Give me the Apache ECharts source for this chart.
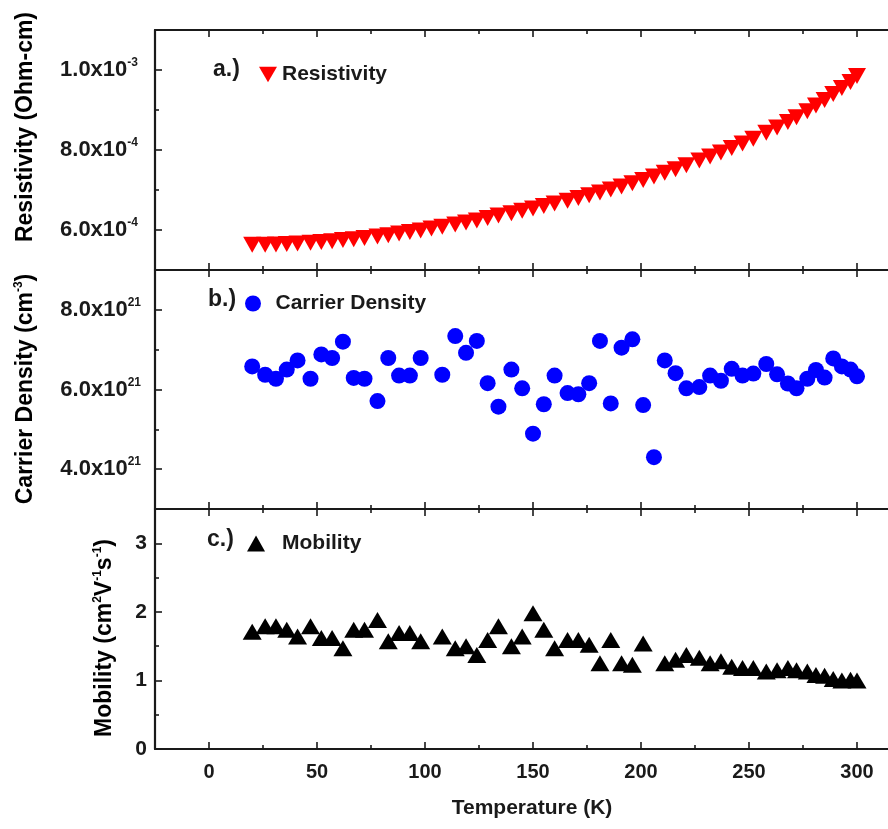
<!DOCTYPE html>
<html>
<head>
<meta charset="utf-8">
<script src="https://cdn.jsdelivr.net/npm/echarts@6/dist/echarts.min.js"></script>
<style>
  html, body { margin: 0; padding: 0; background: #fff; }
  #chart { width: 888px; height: 829px; }
</style>
</head>
<body>
<div id="chart"></div>
<script>
// ---- Data: temperature sweep (K) and measured transport quantities ----
const resTemps = [20,26,31,36,41,47,52,57,62,67,72,78,83,88,93,98,103,108,114,119,124,129,134,140,145,150,155,160,166,171,176,181,186,191,196,201,206,211,216,221,227,232,237,242,247,252,258,263,268,272,277,281,285,289,293,297,300];
const resistivity = [5.63e-4,5.63e-4,5.64e-4,5.65e-4,5.66e-4,5.68e-4,5.70e-4,5.72e-4,5.75e-4,5.77e-4,5.80e-4,5.84e-4,5.87e-4,5.91e-4,5.95e-4,5.99e-4,6.04e-4,6.08e-4,6.14e-4,6.19e-4,6.24e-4,6.30e-4,6.36e-4,6.42e-4,6.48e-4,6.54e-4,6.60e-4,6.66e-4,6.73e-4,6.80e-4,6.87e-4,6.94e-4,7.01e-4,7.09e-4,7.17e-4,7.25e-4,7.34e-4,7.43e-4,7.52e-4,7.62e-4,7.74e-4,7.84e-4,7.94e-4,8.05e-4,8.16e-4,8.28e-4,8.43e-4,8.56e-4,8.70e-4,8.82e-4,8.97e-4,9.11e-4,9.25e-4,9.40e-4,9.55e-4,9.70e-4,9.85e-4];

const hallTemps = [20,26,31,36,41,47,52,57,62,67,72,78,83,88,93,98,108,114,119,124,129,134,140,145,150,155,160,166,171,176,181,186,191,196,201,206,211,216,221,227,232,237,242,247,252,258,263,268,272,277,281,285,289,293,297,300];
const carrierDensity = [6.58e21,6.37e21,6.27e21,6.50e21,6.73e21,6.27e21,6.88e21,6.79e21,7.20e21,6.29e21,6.27e21,5.71e21,6.79e21,6.35e21,6.35e21,6.79e21,6.37e21,7.34e21,6.92e21,7.22e21,6.16e21,5.57e21,6.50e21,6.03e21,4.89e21,5.63e21,6.35e21,5.91e21,5.88e21,6.16e21,7.22e21,5.65e21,7.05e21,7.26e21,5.61e21,4.30e21,6.73e21,6.41e21,6.03e21,6.06e21,6.35e21,6.22e21,6.52e21,6.35e21,6.40e21,6.64e21,6.38e21,6.15e21,6.03e21,6.27e21,6.49e21,6.30e21,6.78e21,6.58e21,6.50e21,6.33e21];

// Mobility has no point at 206 K
const mobilityTemps = [20,26,31,36,41,47,52,57,62,67,72,78,83,88,93,98,108,114,119,124,129,134,140,145,150,155,160,166,171,176,181,186,191,196,201,211,216,221,227,232,237,242,247,252,258,263,268,272,277,281,285,289,293,297,300];
const mobility = [1.71,1.79,1.79,1.74,1.64,1.79,1.62,1.62,1.47,1.74,1.74,1.88,1.57,1.69,1.69,1.57,1.64,1.47,1.50,1.37,1.59,1.79,1.50,1.64,1.98,1.74,1.47,1.59,1.59,1.52,1.25,1.59,1.25,1.23,1.54,1.25,1.30,1.37,1.33,1.25,1.28,1.20,1.18,1.18,1.13,1.15,1.18,1.15,1.13,1.08,1.07,1.02,1.00,1.01,1.00];

// ---- Tick positions ----
const xMajorTicks = [0,50,100,150,200,250,300];
const xMinorTicks = [25,75,125,175,225,275];
const resMajorTicks = [6e-4,8e-4,1e-3];
const resMinorTicks = [7e-4,9e-4];
const denMajorTicks = [4e21,6e21,8e21];
const denMinorTicks = [5e21,7e21];
const mobMajorTicks = [0,1,2,3];
const mobMinorTicks = [0.5,1.5,2.5];

// ---- Styling ----
const FONT = '"Liberation Sans", Arial, Helvetica, sans-serif';
const INK = '#1a1a1a';
const X_MIN = -25, X_MAX = 325;
const DOWN_TRIANGLE = 'path://M0,0L20,0L10,17Z';
const panels = [
  { top: 30,  height: 240, yMin: 5e-4, yMax: 1.1e-3, major: resMajorTicks, minor: resMinorTicks, sci: true,  margin: 17 },
  { top: 270, height: 239, yMin: 3e21, yMax: 9e21,   major: denMajorTicks, minor: denMinorTicks, sci: true,  margin: 14 },
  { top: 509, height: 240, yMin: 0,    yMax: 3.5,    major: mobMajorTicks, minor: mobMinorTicks, sci: false, margin: 8 }
];

const supRich = {
  m: { fontSize: 22, fontWeight: 'bold', fontFamily: FONT, color: INK, lineHeight: 26 },
  e: { fontSize: 12, fontWeight: 'bold', fontFamily: FONT, color: INK, lineHeight: 11, verticalAlign: 'top' }
};

function sciLabel(v) {
  const exp = Math.floor(Math.log10(v) + 1e-9);
  const mant = v / Math.pow(10, exp);
  return '{m|' + mant.toFixed(1) + 'x10}{e|' + exp + '}';
}

const grids = [], xAxes = [], yAxes = [], xIdx = [], yIdx = [];
panels.forEach((p, g) => {
  // The frame runs past the right edge of the canvas
  grids.push({ left: 155, width: 756, top: p.top, height: p.height, containLabel: false, outerBoundsMode: 'none' });
  const isLast = g === panels.length - 1;
  const mkX = (position, ticks, len, line, labels) => ({
    type: 'value', gridIndex: g, position: position, min: X_MIN, max: X_MAX,
    axisLine: { show: line, onZero: false, lineStyle: { color: INK, width: 2.2 } },
    axisTick: { show: true, inside: true, length: len, customValues: ticks, lineStyle: { color: INK, width: 1.6 } },
    axisLabel: labels ? {
      show: true, customValues: xMajorTicks, margin: 13, fontSize: 20, fontWeight: 'bold',
      color: INK, fontFamily: FONT
    } : { show: false },
    splitLine: { show: false }
  });
  xIdx.push(xAxes.length);
  xAxes.push(mkX('bottom', xMajorTicks, 7, true, isLast));
  xAxes.push(mkX('bottom', xMinorTicks, 4, false, false));
  xAxes.push(mkX('top', xMajorTicks, 7, true, false));
  xAxes.push(mkX('top', xMinorTicks, 4, false, false));

  yIdx.push(yAxes.length);
  yAxes.push({
    type: 'value', gridIndex: g, position: 'left', min: p.yMin, max: p.yMax,
    axisLine: { show: true, onZero: false, lineStyle: { color: INK, width: 2.2 } },
    axisTick: { show: true, inside: true, length: 7, customValues: p.major, lineStyle: { color: INK, width: 1.6 } },
    axisLabel: {
      show: true, customValues: p.major, margin: p.margin,
      fontSize: 21, fontWeight: 'bold', color: INK, fontFamily: FONT,
      formatter: p.sci ? sciLabel : (v) => String(v),
      rich: supRich
    },
    splitLine: { show: false }
  });
  yAxes.push({
    type: 'value', gridIndex: g, position: 'left', min: p.yMin, max: p.yMax,
    axisLine: { show: false, onZero: false },
    axisTick: { show: true, inside: true, length: 4, customValues: p.minor, lineStyle: { color: INK, width: 1.6 } },
    axisLabel: { show: false },
    splitLine: { show: false }
  });
});

const pairs = (xs, ys) => xs.map((x, i) => [x, ys[i]]);

const legendText = (pad) => ({
  fontSize: 21, fontWeight: 'bold', color: INK, fontFamily: FONT, padding: [0, 0, 0, pad]
});

const titleRich = {
  t: { fontSize: 23, fontWeight: 'bold', fontFamily: FONT, color: INK, lineHeight: 27 },
  s: { fontSize: 12, fontWeight: 'bold', fontFamily: FONT, color: INK, lineHeight: 11, verticalAlign: 'top' }
};

const option = {
  animation: false,
  backgroundColor: '#fff',
  grid: grids,
  xAxis: xAxes,
  yAxis: yAxes,
  legend: [
    { data: [{ name: 'Resistivity', icon: DOWN_TRIANGLE }], left: 254, top: 59, itemWidth: 18, itemHeight: 16, textStyle: legendText(0) },
    { data: ['Carrier Density'], left: 240, top: 288, itemWidth: 17, itemHeight: 16, textStyle: legendText(9) },
    { data: ['Mobility'], left: 242, top: 528, itemWidth: 18, itemHeight: 16, textStyle: legendText(12) }
  ],
  graphic: [
    { type: 'text', left: 213, top: 58, style: { text: 'a.)', font: 'bold 23px ' + FONT, fill: INK } },
    { type: 'text', left: 208, top: 288, style: { text: 'b.)', font: 'bold 23px ' + FONT, fill: INK } },
    { type: 'text', left: 207, top: 528, style: { text: 'c.)', font: 'bold 23px ' + FONT, fill: INK } },
    { type: 'text', x: 26, y: 127, rotation: Math.PI / 2,
      style: { text: '{t|Resistivity (Ohm-cm)}', rich: titleRich, align: 'center', verticalAlign: 'middle' } },
    { type: 'text', x: 26, y: 389, rotation: Math.PI / 2,
      style: { text: '{t|Carrier Density (cm}{s|-3}{t|)}', rich: titleRich, align: 'center', verticalAlign: 'middle' } },
    { type: 'text', x: 105, y: 638, rotation: Math.PI / 2,
      style: { text: '{t|Mobility (cm}{s|2}{t|V}{s|-1}{t|s}{s|-1}{t|)}', rich: titleRich, align: 'center', verticalAlign: 'middle' } },
    { type: 'text', x: 532, y: 808,
      style: { text: 'Temperature (K)', font: 'bold 21px ' + FONT, fill: INK, align: 'center', verticalAlign: 'middle' } }
  ],
  series: [
    {
      name: 'Resistivity', type: 'scatter', xAxisIndex: xIdx[0], yAxisIndex: yIdx[0],
      symbol: DOWN_TRIANGLE, symbolSize: [18, 16],
      itemStyle: { color: '#ff0000', opacity: 1 },
      data: pairs(resTemps, resistivity)
    },
    {
      name: 'Carrier Density', type: 'scatter', xAxisIndex: xIdx[1], yAxisIndex: yIdx[1],
      symbol: 'circle', symbolSize: 16,
      itemStyle: { color: '#0000ff', opacity: 1 },
      data: pairs(hallTemps, carrierDensity)
    },
    {
      name: 'Mobility', type: 'scatter', xAxisIndex: xIdx[2], yAxisIndex: yIdx[2],
      symbol: 'triangle', symbolSize: [19, 16],
      itemStyle: { color: '#000000', opacity: 1 },
      data: pairs(mobilityTemps, mobility)
    }
  ]
};

const chart = echarts.init(document.getElementById('chart'), null, { renderer: 'canvas' });
chart.setOption(option);
</script>
</body>
</html>
